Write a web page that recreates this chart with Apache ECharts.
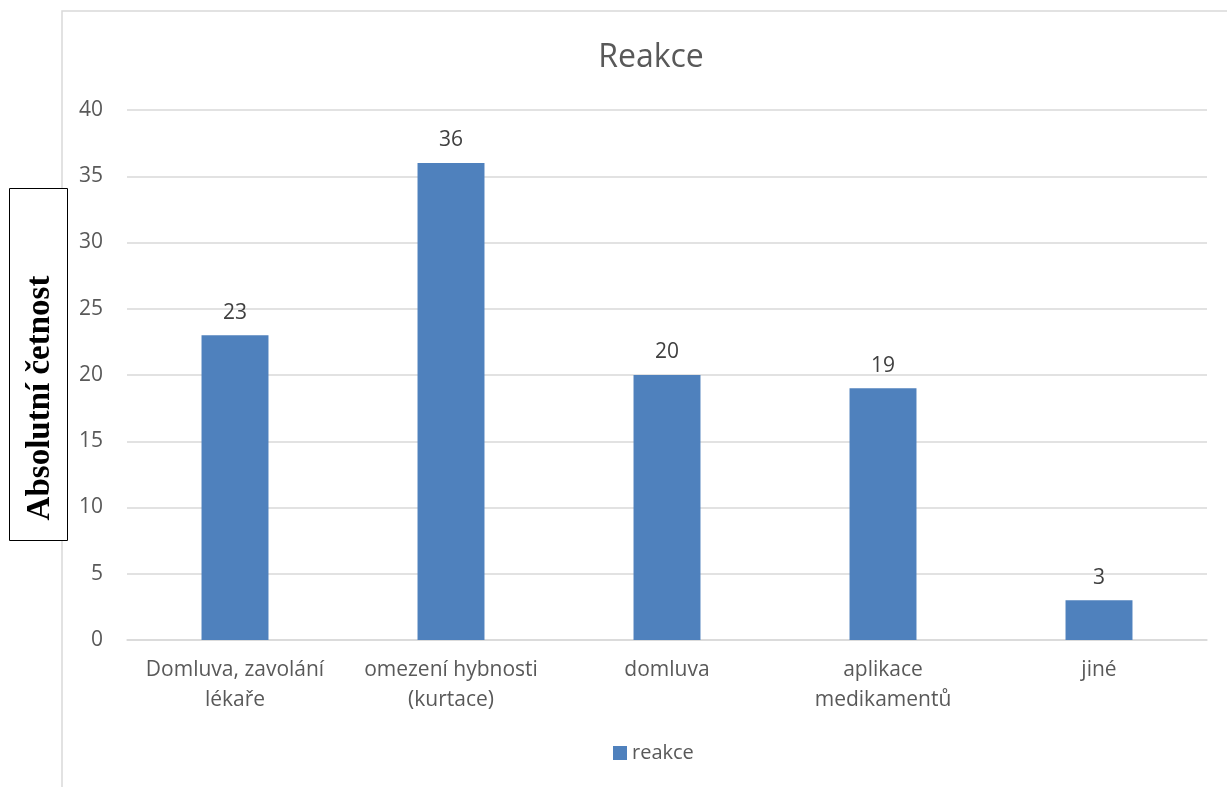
<!DOCTYPE html>
<html><head><meta charset="utf-8">
<script src="https://cdn.jsdelivr.net/npm/echarts@6/dist/echarts.min.js"></script>
<style>html,body{margin:0;padding:0;background:#fff}#c{width:1227px;height:787px}</style>
</head><body><div id="c"></div>
<script>
var categories = ['Domluva, zavolání\nlékaře', 'omezení hybnosti\n(kurtace)', 'domluva', 'aplikace\nmedikamentů', 'jiné'];
var values = [23, 36, 20, 19, 3];
var seriesName = 'reakce';
var titleText = 'Reakce';
var yTitle = 'Absolutní četnost';

var chart = echarts.init(document.getElementById('c'));
var font = '"Open Sans", "Noto Sans", sans-serif';
chart.setOption({
  animation: false,
  title: { text: titleText, left: 646, top: 37, textAlign: 'center',
    textStyle: { fontFamily: font, fontSize: 32, fontWeight: 'normal', color: '#595959' } },
  legend: { data: [seriesName], left: 613, top: 743, padding: 0, icon: 'rect', itemWidth: 14, itemHeight: 14, itemGap: 4,
    textStyle: { fontFamily: font, fontSize: 20, color: '#595959' } },
  grid: { left: 127, right: 20, top: 110, bottom: 147, outerBoundsMode: 'none', containLabel: false },
  graphic: [
    { type: 'polyline', silent: true, shape: { points: [[62, 787], [62, 11], [1227, 11]] }, style: { stroke: '#d9d9d9', lineWidth: 1.5, fill: null } },
    { type: 'rect', silent: true, shape: { x: 9.5, y: 188.5, width: 58, height: 352 }, style: { stroke: '#000', lineWidth: 1, fill: '#fff' } },
    { type: 'text', silent: true, x: 40, y: 398, rotation: Math.PI / 2,
      style: { text: yTitle, fontFamily: '"Liberation Serif", "DejaVu Serif", serif', fontSize: 33, fontWeight: 'bold', fill: '#000',
        align: 'center', verticalAlign: 'middle' } }
  ],
  xAxis: {
    type: 'category', data: categories,
    axisLine: { lineStyle: { color: '#d9d9d9', width: 1.5 } },
    axisTick: { show: false },
    axisLabel: { fontFamily: font, fontSize: 21, color: '#595959', margin: 15, lineHeight: 30, interval: 0 }
  },
  yAxis: {
    type: 'value', min: 0, max: 40, interval: 5,
    axisLine: { show: false }, axisTick: { show: false },
    splitLine: { lineStyle: { color: '#d9d9d9', width: 1.5 } },
    axisLabel: { fontFamily: font, fontSize: 21, color: '#595959', margin: 24 }
  },
  series: [{
    name: seriesName, type: 'bar', data: values, barWidth: '31%',
    itemStyle: { color: '#4F81BD' },
    label: { show: true, position: 'top', distance: 12, fontFamily: font, fontSize: 21, color: '#404040' }
  }]
});
</script></body></html>
